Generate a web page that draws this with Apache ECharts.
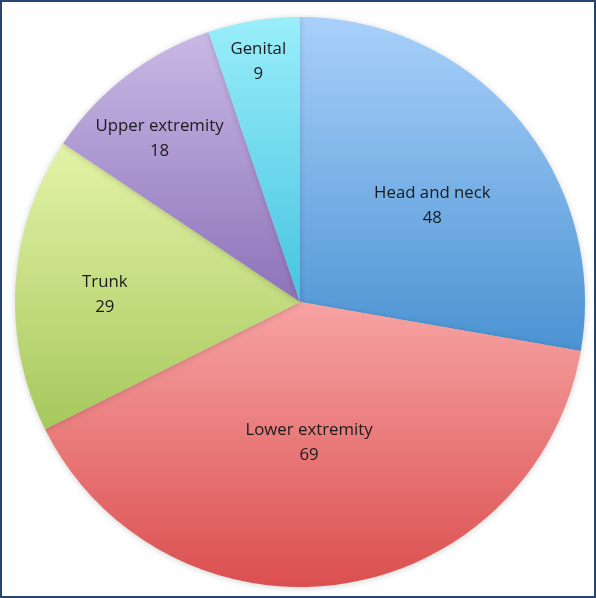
<!DOCTYPE html>
<html>
<head>
<meta charset="utf-8">
<title>Lesion sites</title>
<script src="https://cdn.jsdelivr.net/npm/echarts@6/dist/echarts.min.js"></script>
<style>
  html, body { margin: 0; padding: 0; background: #fff; }
  #chart { width: 596px; height: 598px; box-sizing: border-box; border: 2px solid #26466f; }
</style>
</head>
<body>
<div id="chart"></div>
<script>
// 数据：部位与例数
const sites = ['Head and neck', 'Lower extremity', 'Trunk', 'Upper extremity', 'Genital']
const counts = [48, 69, 29, 18, 9]

// 每块扇形的渐变色（上浅下深）
const topColors = ['#a9d0fa', '#f7a3a3', '#e4f3a8', '#c9b9e6', '#9aeefa']
const bottomColors = ['#4b93d3', '#db4f4f', '#a6c85c', '#8d72b9', '#45c4e0']

// 标签相对默认内部位置的偏移（像素）
const labelShift = [[21, -3], [-12, -3], [-50, 2], [-52, -48], [-18, -97]]

const chart = echarts.init(document.getElementById('chart'), null, { renderer: 'canvas' })

chart.setOption({
  animation: false,
  series: [{
    type: 'pie',
    center: [298, 300],
    radius: 285,
    startAngle: 90,
    clockwise: true,
    avoidLabelOverlap: false,
    data: sites.map((name, i) => ({
      name,
      value: counts[i],
      itemStyle: {
        color: new echarts.graphic.LinearGradient(0, 0, 0, 1, [
          { offset: 0, color: topColors[i] },
          { offset: 1, color: bottomColors[i] }
        ])
      }
    })),
    itemStyle: {
      borderWidth: 0,
      shadowBlur: 6,
      shadowColor: 'rgba(0,0,0,0.18)',
      shadowOffsetY: 1
    },
    label: {
      show: true,
      position: 'inside',
      formatter: '{b}\n{c}',
      color: '#1b1b1b',
      fontFamily: 'Open Sans',
      fontSize: 16.8,
      lineHeight: 25,
      align: 'center'
    },
    labelLine: { show: false },
    labelLayout: params => ({
      dx: labelShift[params.dataIndex][0],
      dy: labelShift[params.dataIndex][1]
    }),
    emphasis: { disabled: true }
  }]
})

window.addEventListener('resize', () => chart.resize())
</script>
</body>
</html>
